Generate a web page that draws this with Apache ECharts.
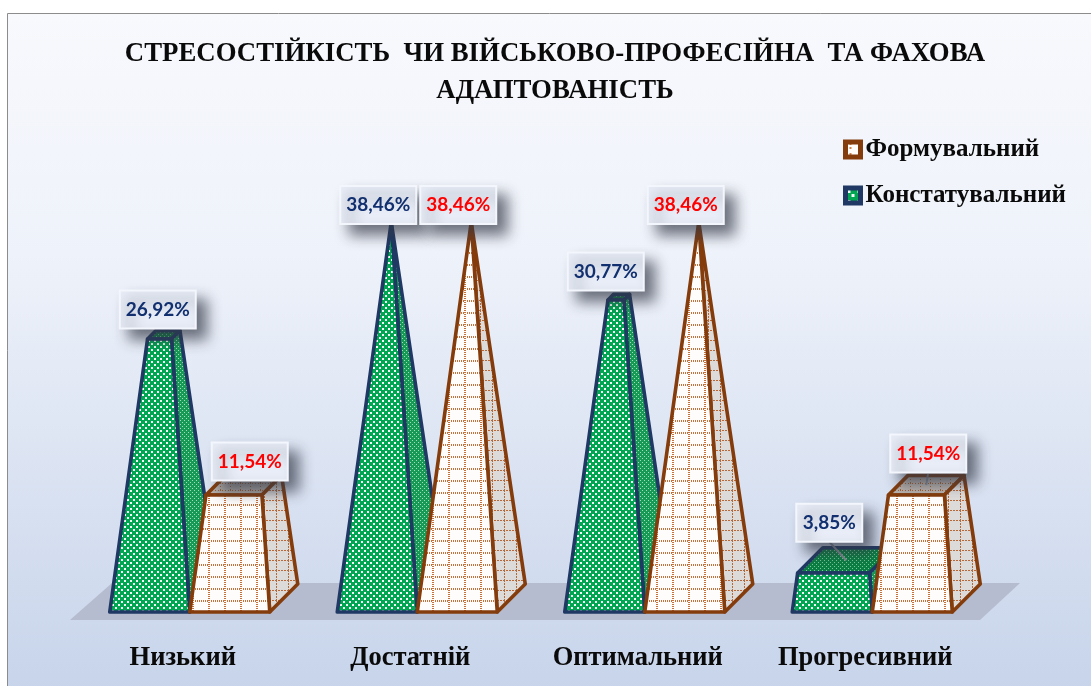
<!DOCTYPE html>
<html>
<head>
<meta charset="utf-8">
<script src="https://cdn.jsdelivr.net/npm/echarts@6/dist/echarts.min.js"></script>
<style>
html, body { margin: 0; padding: 0; background: #fff; }
#chart { width: 1091px; height: 686px; }
</style>
</head>
<body>
<div id="chart"></div>
<script>
var categories = ['Низький', 'Достатній', 'Оптимальний', 'Прогресивний'];
var konstatuvalnyi = [26.92, 38.46, 30.77, 3.85];
var formuvalnyi = [11.54, 38.46, 38.46, 11.54];
var maxValue = 38.46;

// callout offsets, set by hand like in the original
var blueShift = [[-6, -2], [-13, 2], [-13, -4], [-17, -6]];
var redShift = [[6, 5], [-13, 2], [-13, 2], [2, -3]];

var barW = 80, depthX = 28, depthY = -28;
var serif = '"Liberation Serif", serif';

function tile(w, h, draw) {
    var c = document.createElement('canvas');
    c.width = w;
    c.height = h;
    draw(c.getContext('2d'));
    return { image: c, repeat: 'repeat' };
}
// dotted grid: one broken line along each tile edge
function grid(g, color, w, h, step, dot, thick) {
    g.fillStyle = color;
    for (var y = 0; y < h; y += step) g.fillRect(0, y, thick, dot);
    for (var x = thick + 1; x < w; x += step) g.fillRect(x, 0, dot, thick);
}

var blueStyle = {
    edge: '#1f3864',
    front: tile(6, 6, function (g) {
        g.fillStyle = '#00a651'; g.fillRect(0, 0, 6, 6);
        g.fillStyle = '#f4fff8'; g.fillRect(1, 1, 2, 2); g.fillRect(4, 4, 2, 2);
    }),
    side: tile(4, 4, function (g) {
        g.fillStyle = '#179a55'; g.fillRect(0, 0, 4, 4);
        g.fillStyle = '#a5dcba'; g.fillRect(0, 0, 1, 1); g.fillRect(2, 2, 1, 1);
    }),
    top: tile(4, 4, function (g) {
        g.fillStyle = '#0b7f43'; g.fillRect(0, 0, 4, 4);
        g.fillStyle = '#7cc79b'; g.fillRect(0, 0, 1, 1); g.fillRect(2, 2, 1, 1);
    })
};
var redStyle = {
    edge: '#843c0c',
    front: tile(16, 12, function (g) {
        g.fillStyle = '#fffdfc'; g.fillRect(0, 0, 16, 12);
        grid(g, '#c4713c', 16, 12, 2, 1, 2);
    }),
    side: tile(12, 10, function (g) {
        g.fillStyle = '#dddbda'; g.fillRect(0, 0, 12, 10);
        grid(g, '#b5683a', 12, 10, 3, 2, 1);
    }),
    top: tile(10, 7, function (g) {
        g.fillStyle = '#b9b2ad'; g.fillRect(0, 0, 10, 7);
        grid(g, '#a8602f', 10, 7, 3, 1, 1);
    })
};

// legend swatches: a small patch of the fabric inside a thick frame
var blueSwatch = tile(10, 10, function (g) {
    g.fillStyle = '#00a651'; g.fillRect(0, 0, 10, 10);
    g.fillStyle = '#f4fff8'; g.fillRect(2, 2, 3, 3); g.fillRect(6, 6, 3, 3);
});
var redSwatch = tile(10, 10, function (g) {
    g.fillStyle = '#fffdfc'; g.fillRect(0, 0, 10, 10);
    g.fillStyle = '#d08350'; g.fillRect(4, 1, 2, 2); g.fillRect(4, 5, 2, 2);
});

function label(v) {
    return v.toFixed(2).replace('.', ',') + '%';
}

// truncated pyramid: every corner runs from the base to the common apex
function pyramid(look, sign, shifts, textColor) {
    return function (params, api) {
        var i = api.value(0);
        var v = api.value(1);
        var c = api.coord([i, v]);
        var base = api.coord([i, 0]);
        var apexY = api.coord([i, maxValue])[1];
        var x0 = sign < 0 ? c[0] - barW : c[0];
        var y0 = base[1];
        var t = v / maxValue;
        var ax = x0 + barW / 2 + depthX / 2;
        function up(x, y) {
            return [x + (ax - x) * t, y + (apexY - y) * t];
        }
        var fl = [x0, y0], fr = [x0 + barW, y0], br = [x0 + barW + depthX, y0 + depthY], bl = [x0 + depthX, y0 + depthY];
        var tfl = up(fl[0], fl[1]), tfr = up(fr[0], fr[1]), tbr = up(br[0], br[1]), tbl = up(bl[0], bl[1]);
        function face(pts, fill) {
            return {
                type: 'polygon',
                shape: { points: pts },
                style: { fill: fill, stroke: look.edge, lineWidth: 3.6, lineJoin: 'round' },
                z2: sign < 0 ? 1 : 2
            };
        }
        var s = shifts[i];
        var boxW = v < 5 ? 66 : 76, boxH = 38;
        var cx = ax + s[0];
        var by = tbr[1] + s[1];
        var topY = (tfl[1] + tbl[1]) / 2;
        var children = [
            face([tfl, tfr, tbr, tbl], look.top),
            face([fr, br, tbr, tfr], look.side),
            face([fl, fr, tfr, tfl], look.front)
        ];
        if (topY - by > 8) {
            children.push({
                type: 'line',
                shape: { x1: cx, y1: by, x2: ax, y2: topY },
                style: { stroke: '#8a8f99', lineWidth: 2 },
                z2: 10
            });
        }
        children.push({
            type: 'rect',
            shape: { x: cx - boxW / 2, y: by - boxH, width: boxW, height: boxH },
            style: {
                fill: '#e8edf7', stroke: '#f3f6fc', lineWidth: 2,
                shadowBlur: 14, shadowOffsetX: 10, shadowOffsetY: 10, shadowColor: 'rgba(50,55,70,0.7)'
            },
            z2: 20
        }, {
            type: 'text',
            style: {
                x: cx, y: by - boxH / 2, text: label(v), fill: textColor,
                font: 'bold 19px Lato, sans-serif', align: 'center', verticalAlign: 'middle'
            },
            z2: 21
        });
        return { type: 'group', children: children };
    };
}

function points(values) {
    return values.map(function (v, i) { return [i, v]; });
}

var chart = echarts.init(document.getElementById('chart'));

var option = {
    animation: false,
    backgroundColor: '#fff',
    title: {
        text: 'СТРЕСОСТІЙКІСТЬ  ЧИ ВІЙСЬКОВО-ПРОФЕСІЙНА  ТА ФАХОВА\nАДАПТОВАНІСТЬ',
        left: 550,
        top: 31,
        textAlign: 'center',
        textStyle: { fontFamily: serif, fontWeight: 'bold', fontSize: 26.8, lineHeight: 37, color: '#0a0a0a' }
    },
    legend: {
        orient: 'vertical',
        left: 838,
        top: 132,
        itemWidth: 15,
        itemHeight: 15,
        itemGap: 21,
        selectedMode: false,
        icon: 'rect',
        textStyle: { fontFamily: serif, fontWeight: 'bold', fontSize: 25, color: '#0a0a0a' },
        data: [
            { name: 'Формувальний', itemStyle: { color: redSwatch, borderColor: redStyle.edge, borderWidth: 5 } },
            { name: 'Констатувальний', itemStyle: { color: blueSwatch, borderColor: blueStyle.edge, borderWidth: 5 } }
        ]
    },
    grid: { left: 76, width: 910, top: 222, height: 390 },
    xAxis: {
        type: 'category',
        data: categories,
        axisLine: { show: false },
        axisTick: { show: false },
        axisLabel: {
            interval: 0,
            margin: 33,
            padding: [0, 14, 0, 0],
            fontFamily: serif,
            fontWeight: 'bold',
            fontSize: 26.5,
            color: '#0a0a0a'
        }
    },
    yAxis: { type: 'value', min: 0, max: maxValue, show: false },
    graphic: [
        {
            type: 'rect',
            z: -2,
            shape: { x: 7.5, y: 13.5, width: 1100, height: 690 },
            style: {
                stroke: '#8c8c8c',
                lineWidth: 1,
                fill: new echarts.graphic.LinearGradient(0, 0, 0, 1, [
                    { offset: 0, color: '#f8f9fd' },
                    { offset: 0.35, color: '#eef2fa' },
                    { offset: 1, color: '#c6d3ea' }
                ])
            }
        },
        {
            type: 'polygon',
            z: -1,
            shape: { points: [[70, 620], [980, 620], [1020, 583], [112, 583]] },
            style: { fill: '#b5bccf' }
        }
    ],
    series: [
        {
            name: 'Констатувальний',
            type: 'custom',
            renderItem: pyramid(blueStyle, -1, blueShift, '#12306f'),
            encode: { x: 0, y: 1 },
            data: points(konstatuvalnyi),
            itemStyle: { color: blueSwatch, borderColor: blueStyle.edge, borderWidth: 5 }
        },
        {
            name: 'Формувальний',
            type: 'custom',
            renderItem: pyramid(redStyle, 1, redShift, '#ff0000'),
            encode: { x: 0, y: 1 },
            data: points(formuvalnyi),
            itemStyle: { color: redSwatch, borderColor: redStyle.edge, borderWidth: 5 }
        }
    ]
};

chart.setOption(option);
</script>
</body>
</html>
